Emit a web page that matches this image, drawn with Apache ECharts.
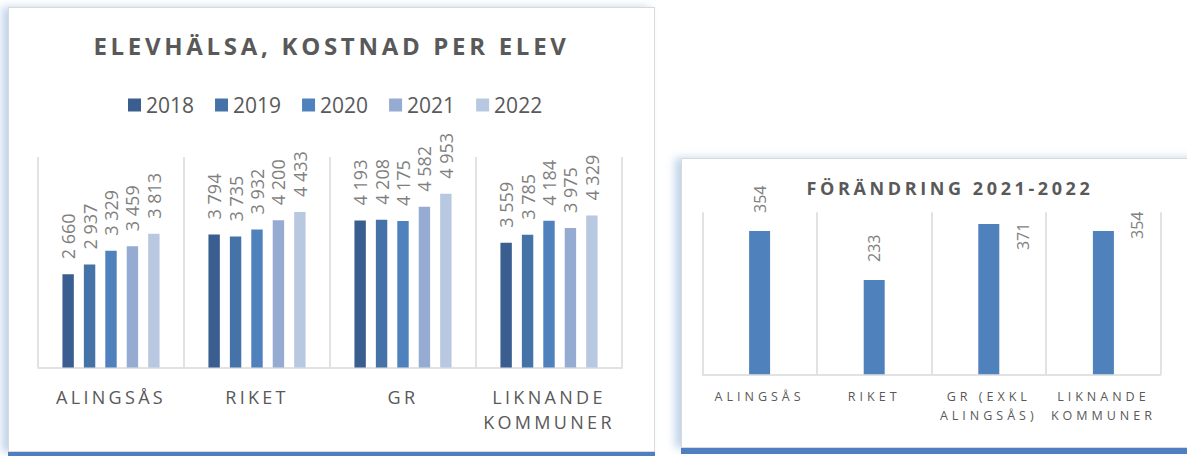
<!DOCTYPE html>
<html>
<head>
<meta charset="utf-8">
<script src="https://cdn.jsdelivr.net/npm/echarts@6/dist/echarts.min.js"></script>
<style>
body { margin: 0; width: 1187px; height: 456px; overflow: hidden; background: #fff; position: relative; }
.card { position: absolute; box-sizing: border-box; border: 1px solid #d9d9d9; background: #fff; }
#cardLeft { left: 8px; top: 7px; width: 647px; height: 445px; box-shadow: 0 4px 0 #4f7fc0, -6px 0 8px rgba(120,160,210,0.45); }
#cardRight { left: 681px; top: 158px; width: 538px; height: 290px; box-shadow: 0 6px 0 #4f7fc0, -6px 0 8px rgba(120,160,210,0.45); }
.chart { position: absolute; left: 0; top: 0; right: 0; bottom: 0; }
</style>
</head>
<body>
<div class="card" id="cardLeft"><div class="chart" id="chartLeft"></div></div>
<div class="card" id="cardRight"><div class="chart" id="chartRight"></div></div>
<script>
// data
const years = ['2018', '2019', '2020', '2021', '2022'];
const areas = ['ALINGSÅS', 'RIKET', 'GR', 'LIKNANDE KOMMUNER'];
const cost2018 = [2660, 3794, 4193, 3559];
const cost2019 = [2937, 3735, 4208, 3785];
const cost2020 = [3329, 3932, 4175, 4184];
const cost2021 = [3459, 4200, 4582, 3975];
const cost2022 = [3813, 4433, 4953, 4329];
const changeAreas = ['ALINGSÅS', 'RIKET', 'GR (EXKL ALINGSÅS)', 'LIKNANDE KOMMUNER'];
const change2122 = [354, 233, 371, 354];

const yearColors = ['#3a5e8f', '#4572a7', '#4f81bd', '#95abd2', '#b9c8e1'];
const font = "'Open Sans', 'Liberation Sans', sans-serif";
const grey = '#595959';

function fmt(v) {
  return String(v).replace(/\B(?=(\d{3})+(?!\d))/g, ' ');
}
function wrapLast(v) {
  const i = v.lastIndexOf(' ');
  return i < 0 ? v : v.slice(0, i) + '\n' + v.slice(i + 1);
}
// letter spacing for the spaced-out caps (svg text)
function spaceText(chart, table) {
  chart.getDom().querySelectorAll('text').forEach(t => {
    const s = table[t.textContent];
    if (s) t.style.letterSpacing = s + 'px';
  });
}

let leftChart = echarts.init(document.getElementById('chartLeft'), null, { renderer: 'svg' });
let costs = [cost2018, cost2019, cost2020, cost2021, cost2022];
leftChart.setOption({
  animation: false,
  title: {
    text: 'ELEVHÄLSA, KOSTNAD PER ELEV',
    left: 'center',
    top: 22,
    padding: 0,
    textStyle: { fontFamily: font, fontWeight: 'bold', fontSize: 24, lineHeight: 30, color: grey }
  },
  legend: {
    data: years,
    left: 119,
    top: 85,
    padding: 0,
    icon: 'rect',
    itemWidth: 13,
    itemHeight: 13,
    itemGap: 21,
    textStyle: { fontFamily: font, fontSize: 21, lineHeight: 24, color: grey }
  },
  grid: { left: 29, top: 149, width: 584, height: 210.5 },
  xAxis: {
    type: 'category',
    data: areas,
    axisLine: { lineStyle: { color: '#d9d9d9', width: 1.5 } },
    axisTick: { show: false },
    splitLine: { show: true, lineStyle: { color: '#d9d9d9', width: 1.5 } },
    axisLabel: {
      interval: 0,
      margin: 17,
      formatter: wrapLast,
      fontFamily: font,
      fontSize: 18,
      lineHeight: 25,
      color: grey
    }
  },
  yAxis: { type: 'value', min: 0, max: 6000, show: false, splitLine: { show: false } },
  series: years.map((y, i) => ({
    name: y,
    type: 'bar',
    data: costs[i],
    barWidth: 11.4,
    barGap: '88%',
    itemStyle: { color: yearColors[i] },
    label: {
      show: true,
      position: 'top',
      distance: 15,
      rotate: 90,
      align: 'left',
      verticalAlign: 'middle',
      fontFamily: font,
      fontSize: 18,
      color: '#7f7f7f',
      formatter: p => fmt(p.value)
    }
  }))
});

let rightChart = echarts.init(document.getElementById('chartRight'), null, { renderer: 'svg' });
let labelSpots = [null, null, [45, 26], [44, 8]];
rightChart.setOption({
  animation: false,
  title: {
    text: 'FÖRÄNDRING 2021-2022',
    left: 'center',
    top: 18,
    padding: 0,
    textStyle: { fontFamily: font, fontWeight: 'bold', fontSize: 18, lineHeight: 22, color: grey }
  },
  grid: { left: 20.3, top: 53.3, width: 458.4, height: 162 },
  xAxis: {
    type: 'category',
    data: changeAreas,
    axisLine: { lineStyle: { color: '#d9d9d9', width: 1.5 } },
    axisTick: { show: false },
    splitLine: { show: true, lineStyle: { color: '#d9d9d9', width: 1.5 } },
    axisLabel: {
      interval: 0,
      margin: 13,
      formatter: wrapLast,
      fontFamily: font,
      fontSize: 12.5,
      lineHeight: 19,
      color: grey
    }
  },
  yAxis: { type: 'value', min: 0, max: 400, show: false, splitLine: { show: false } },
  series: [{
    name: 'Förändring',
    type: 'bar',
    barWidth: 21,
    itemStyle: { color: '#4f81bd' },
    label: {
      show: true,
      position: 'top',
      distance: 18,
      rotate: 90,
      align: 'left',
      verticalAlign: 'middle',
      fontFamily: font,
      fontSize: 16,
      color: '#7f7f7f'
    },
    data: change2122.map((v, i) => labelSpots[i] ? { value: v, label: { position: labelSpots[i] } } : v)
  }]
});

const leftSpacing = {
  'ELEVHÄLSA, KOSTNAD PER ELEV': 3.7,
  'ALINGSÅS': 3.3, 'RIKET': 3.3, 'GR': 3.3, 'LIKNANDE': 3.3, 'KOMMUNER': 3.3
};
const rightSpacing = {
  'FÖRÄNDRING 2021-2022': 3.6,
  'ALINGSÅS': 4, 'RIKET': 4, 'GR (EXKL': 4, 'ALINGSÅS)': 4, 'LIKNANDE': 4, 'KOMMUNER': 4
};
function applySpacing() {
  spaceText(leftChart, leftSpacing);
  spaceText(rightChart, rightSpacing);
}
leftChart.on('finished', applySpacing);
rightChart.on('finished', applySpacing);
applySpacing();
setTimeout(applySpacing, 30);
</script>
</body>
</html>
